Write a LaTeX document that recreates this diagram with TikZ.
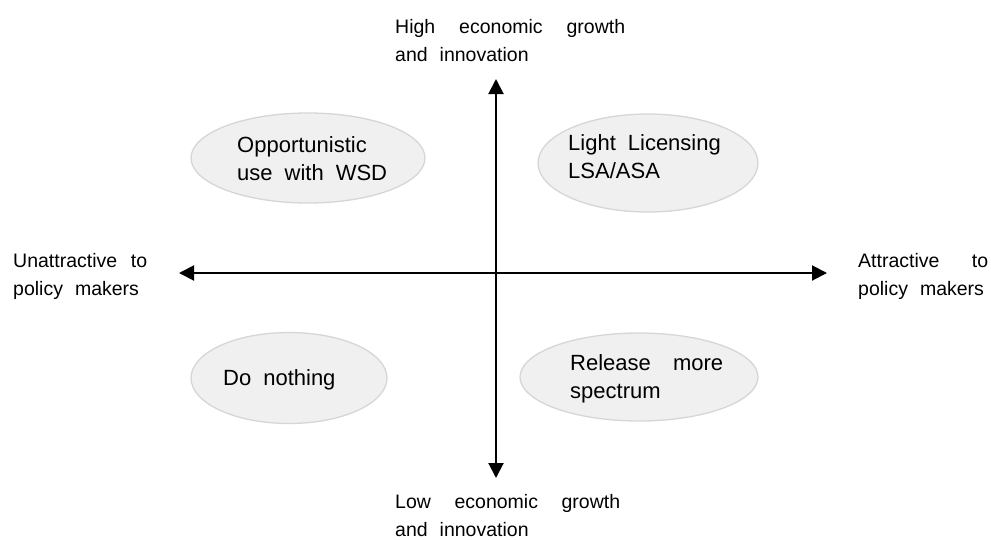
\documentclass[tikz,border=0pt]{standalone}
\usepackage{fontspec}
\setmainfont{Liberation Sans}
\usetikzlibrary{arrows.meta,shapes.geometric}
\definecolor{ellipsefill}{HTML}{F0F0F0}
\definecolor{ellipseborder}{HTML}{D6D6D6}
\newcommand\axf{\fontsize{19.5}{28}\selectfont\spaceskip=12pt plus 1fil\relax}
\newcommand\elf{\fontsize{22}{28}\selectfont\spaceskip=12pt plus 1fil\relax}
\newcommand\twoln[2]{\vtop{\hbox{#1}\hbox{#2}}}
\newcommand\jst[2]{\makebox[#1][s]{#2}}
\begin{document}
\begin{tikzpicture}[x=1pt,y=-1pt,
  axis/.style={line width=2pt,{Triangle[length=15pt,width=15pt]}-{Triangle[length=15pt,width=15pt]}},
  quad/.style={ellipse,draw=ellipseborder,fill=ellipsefill,line width=1.3pt,inner sep=0pt},
  lbl/.style={anchor=base west,inner sep=0pt,font=\axf},
  etxt/.style={anchor=base west,inner sep=0pt,font=\elf}]
\useasboundingbox (0,0) rectangle (991,539);
% quadrant ellipses
\node[quad,minimum width=234pt,minimum height=90pt] (e1) at (308,158) {};
\node[quad,minimum width=220pt,minimum height=98pt] (e2) at (648,163) {};
\node[quad,minimum width=196pt,minimum height=91pt] (e3) at (289,378) {};
\node[quad,minimum width=238pt,minimum height=88pt] (e4) at (639,377) {};
\node[etxt] (t1) at (237,152) {\twoln{Opportunistic}{use with WSD}};
\node[etxt] (t2) at (568,150) {\twoln{Light Licensing}{LSA/ASA}};
\node[etxt] (t3) at (223,385) {Do nothing};
\node[etxt] (t4) at (570,370) {\twoln{\jst{153pt}{Release more}}{spectrum}};
% axis labels
\node[lbl] (top) at (395,33) {\twoln{\jst{230pt}{High economic growth}}{and innovation}};
\node[lbl] (bot) at (395,508) {\twoln{\jst{225pt}{Low economic growth}}{and innovation}};
\node[lbl] (lft) at (13,267) {\twoln{\jst{134pt}{Unattractive to}}{policy makers}};
\node[lbl] (rgt) at (858,267) {\twoln{\jst{130pt}{Attractive to}}{policy makers}};
% axes
\coordinate (xl) at (179,273);
\coordinate (xr) at (827,273);
\coordinate (yt) at (496,79);
\coordinate (yb) at (496,478);
\draw[axis] (xl) -- (xr);
\draw[axis] (yb) -- (yt);
\end{tikzpicture}
\end{document}
